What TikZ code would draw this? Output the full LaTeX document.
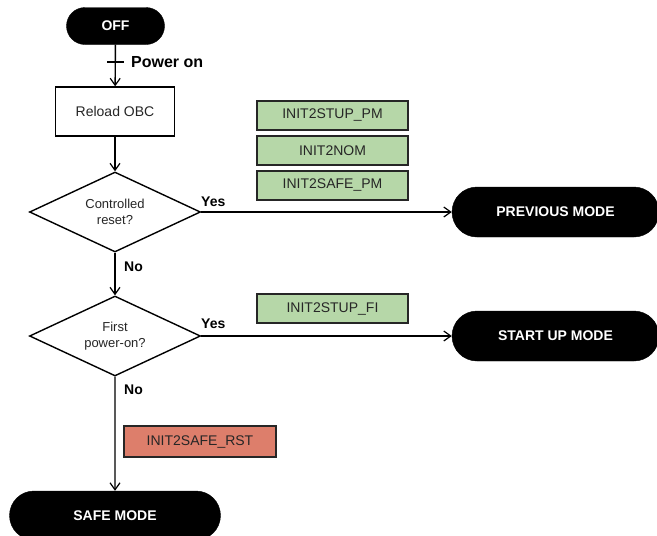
\documentclass[tikz,border=0pt]{standalone}
\usepackage{fontspec}
\setmainfont{Liberation Sans}
\usetikzlibrary{shapes.geometric,shapes.misc,arrows.meta}
\definecolor{boxgreen}{HTML}{B6D7A8}
\definecolor{boxred}{HTML}{DD7E6B}
\definecolor{txt}{HTML}{262626}
\tikzset{
  pill/.style={rounded rectangle, fill=black, draw=black, text=white, font=\fontsize{14}{16}\selectfont\bfseries, inner sep=0pt},
  procbox/.style={rectangle, draw=black, line width=1.4pt, fill=white, text=txt, font=\fontsize{14}{16}\selectfont, inner sep=0pt},
  decision/.style={diamond, draw=black, line width=1.4pt, fill=white, text=txt, align=center, font=\fontsize{13}{16}\selectfont, inner sep=0pt, aspect=2.1},
  tagbox/.style={rectangle, draw=black!85, line width=1.3pt, text=txt, font=\fontsize{14}{16}\selectfont, inner sep=0pt, minimum width=151pt, minimum height=29pt},
  lbl/.style={font=\fontsize{14}{16}\selectfont\bfseries, text=black, inner sep=0pt},
  flow/.style={draw=black, line width=1.4pt, -{Straight Barb[length=7pt,width=10pt,line width=1.2pt]}},
}
\begin{document}
\begin{tikzpicture}[x=1pt,y=-1pt]
\useasboundingbox (0,0) rectangle (657,536);
\clip (0,0) rectangle (657,536);
\fill[white] (0,0) rectangle (657,536);

\node[pill, minimum width=98pt, minimum height=37pt] (off) at (115.5,26) {OFF};
\node[procbox, minimum width=119pt, minimum height=49pt] (reload) at (115,111.5) {Reload OBC};
\node[decision, minimum width=171pt, minimum height=80pt] (d1) at (115,212) {Controlled\\reset?};
\node[decision, minimum width=171pt, minimum height=80pt] (d2) at (115,336) {First\\power-on?};
\node[pill, minimum width=207pt, minimum height=50pt] (prev) at (555.5,212) {PREVIOUS MODE};
\node[pill, minimum width=207pt, minimum height=50pt] (start) at (555.5,336) {START UP MODE};
\node[pill, minimum width=211pt, minimum height=49pt] (safe) at (115,515.5) {SAFE MODE};

\node[tagbox, fill=boxgreen] (t1) at (332.5,115.5) {INIT2STUP\_PM};
\node[tagbox, fill=boxgreen] (t2) at (332.5,150.5) {INIT2NOM};
\node[tagbox, fill=boxgreen] (t3) at (332.5,185.5) {INIT2SAFE\_PM};
\node[tagbox, fill=boxgreen] (t4) at (332.5,308.5) {INIT2STUP\_FI};
\node[tagbox, fill=boxred, minimum width=152pt, minimum height=31pt] (t5) at (200,441.5) {INIT2SAFE\_RST};

% connectors
\draw[flow] (off) -- (reload);
\coordinate (tick) at (115.5,62);
\draw[line width=1.4pt] ([xshift=-8.5pt]tick) -- ([xshift=8.5pt]tick);
\node[lbl, anchor=west, font=\fontsize{16}{18}\selectfont\bfseries] (pwr) at (131,62) {Power on};

\draw[flow] (reload) -- (d1);
\draw[flow] (d1) -- (prev);
\draw[flow] (d1) -- (d2);
\draw[flow] (d2) -- (start);
\draw[flow] (d2) -- (safe);

\node[lbl, anchor=west] (yes1) at (201,202) {Yes};
\node[lbl, anchor=west] (yes2) at (201,324) {Yes};
\node[lbl, anchor=west] (no1) at (124,267) {No};
\node[lbl, anchor=west] (no2) at (124,389.5) {No};
\end{tikzpicture}
\end{document}
